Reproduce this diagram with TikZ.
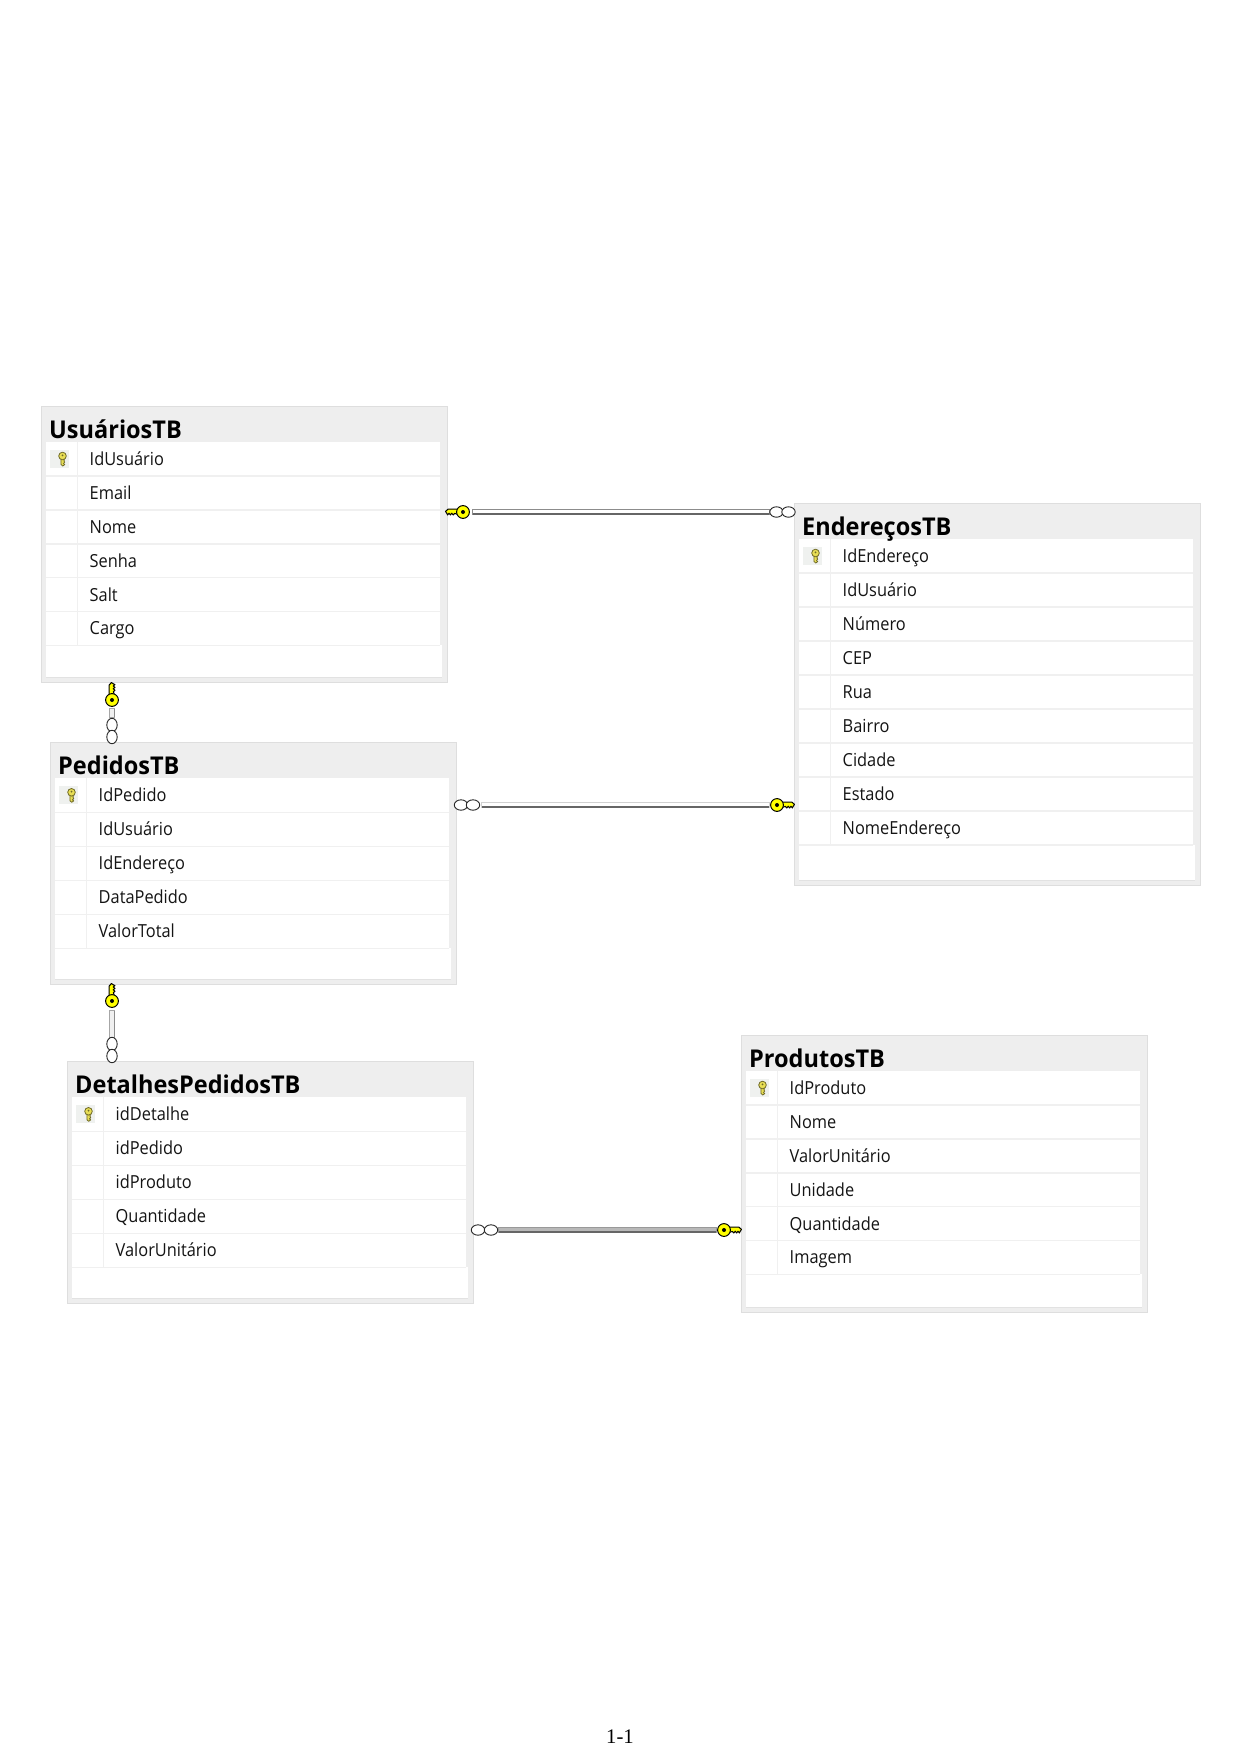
\documentclass[tikz,border=0pt]{standalone}
\usepackage{fontspec}
\setmainfont{Open Sans}
\newfontfamily\rowfont[FakeStretch=0.91]{Open Sans}
\newfontfamily\titlefont[FakeStretch=0.96]{Open Sans Bold}
\newfontfamily\pagefont{Liberation Serif}
\usetikzlibrary{shapes.geometric}
\definecolor{band}{HTML}{EEEEEE}
\definecolor{edge}{HTML}{DEDEDE}
\definecolor{sepc}{HTML}{F0F0F0}
\definecolor{inner}{HTML}{E2E2E2}
\definecolor{iconbg}{HTML}{EFF1EF}
\definecolor{keyy}{HTML}{FFFF00}
\definecolor{ikey}{HTML}{E8DE55}
\definecolor{ikeyo}{HTML}{6F6A28}
\tikzset{
  x=1pt,y=-1pt,
  tablebox/.style={draw=edge,fill=band,line width=0.8pt,rectangle,inner sep=0pt,anchor=north west},
  tabletitle/.style={anchor=base west,inner sep=0pt,font=\titlefont\fontsize{24.5}{26}\selectfont,text=black},
  rowtext/.style={anchor=base west,inner sep=0pt,font=\rowfont\fontsize{18}{20}\selectfont,text=black!92},
  crow/.style={ellipse,draw=black!85,fill=white,line width=0.9pt,inner sep=0pt},
  crowh/.style={crow,minimum width=13.4pt,minimum height=10.4pt},
  crowv/.style={crow,minimum width=10.4pt,minimum height=13.4pt},
  bigkey/.pic={
    \filldraw[fill=keyy,draw=black,line width=1pt,line join=round]
      (4,-2.8) -- (15,-2.8) -- (17.5,-0.6) -- (16.4,1) -- (15.4,3) -- (14,1.2) -- (12.6,3)
      -- (11.2,1.2) -- (9.8,3) -- (8.4,1.4) -- (4,2.8) -- cycle;
    \filldraw[fill=keyy,draw=black,line width=1pt] (0,0) circle[radius=6.4pt];
    \fill[black] (0,0) circle[radius=2pt];
  },
  smallkey/.pic={
    \filldraw[fill=ikey,draw=ikeyo,line width=0.8pt,line join=round]
      (-1.6,-1) -- (-1.6,5.4) -- (0.2,7) -- (2.2,5.6) -- (1,4.4) -- (2.2,3.2) -- (1.6,2.2) -- (1.6,-1) -- cycle;
    \filldraw[fill=ikey,draw=ikeyo,line width=0.8pt] (0,-3) circle[radius=3.8pt];
    \fill[ikeyo] (0,-3.6) circle[radius=1pt];
  },
}
% name, x, y, height, title, row pitch, rows
\newcommand{\dbtable}[7]{%
  \node[tablebox,minimum width=406pt,minimum height=#4pt] (#1) at (#2,#3) {};
  \pgfmathsetmacro{\tl}{#2+5}
  \pgfmathsetmacro{\tr}{#2+399}
  \pgfmathsetmacro{\tw}{#2+401}
  \pgfmathsetmacro{\tc}{#2+36}
  \pgfmathsetmacro{\tt}{#3+36}
  \pgfmathsetmacro{\tb}{#3+#4-5}
  \fill[white] (\tl,\tt) rectangle (\tw,\tb);
  \draw[inner,line width=0.8pt] (\tl,\tb) -- (\tw,\tb);
  \fill[band] (\tr,\tt) rectangle (\tw,\tt+1);
  \pgfmathsetmacro{\ttx}{#2+8}
  \pgfmathsetmacro{\tty}{#3+32}
  \node[tabletitle] (#1-title) at (\ttx,\tty) {#5};
  \foreach \rowlabel [count=\ri] in {#7} {
    \pgfmathsetmacro{\rt}{#3+36+#6*(\ri-1)}
    \pgfmathsetmacro{\rb}{\rt+#6}
    \pgfmathsetmacro{\rtx}{#2+48.5}
    \pgfmathsetmacro{\rty}{\rt+23.4}
    \fill[band] (\tr,\rt) rectangle (\tw,\rb);
    \draw[sepc,line width=1.6pt] (\tl,\rb) -- (\tr,\rb);
    \draw[sepc,line width=1pt] (\tc,\rt) -- (\tc,\rb);
    \node[rowtext] (#1-\ri) at (\rtx,\rty) {\rowlabel};
  }
  \pgfmathsetmacro{\ix}{#2+9}
  \pgfmathsetmacro{\iy}{#3+44}
  \fill[iconbg] (\ix,\iy) rectangle ++(19,18);
  \pgfmathsetmacro{\ikx}{#2+21.5}
  \pgfmathsetmacro{\iky}{#3+53}
  \pic at (\ikx,\iky) {smallkey};
}
% bars between named coordinates
\newcommand{\hconn}[4]{%
  \fill[#4] ([yshift=3pt]#1) rectangle ([yshift=-3pt]#2);
  \draw[#3,line width=1pt] ([yshift=2.6pt]#1) -- ([yshift=2.6pt]#2);
  \draw[black!60,line width=1.6pt] ([yshift=-2.2pt]#1) -- ([yshift=-2.2pt]#2);
  \draw[#3,line width=1pt] ([yshift=3pt]#1) -- ([yshift=-3pt]#1);
  \draw[#3,line width=1pt] ([yshift=3pt]#2) -- ([yshift=-3pt]#2);
}
\newcommand{\vconn}[2]{%
  \fill[black!6] ([xshift=-3pt]#1) rectangle ([xshift=3pt]#2);
  \draw[black!35,line width=1pt] ([xshift=-2.6pt]#1) -- ([xshift=-2.6pt]#2);
  \draw[black!45,line width=1.4pt] ([xshift=2.4pt]#1) -- ([xshift=2.4pt]#2);
  \draw[black!35,line width=0.8pt] ([xshift=-3pt]#1) -- ([xshift=3pt]#1);
  \draw[black!35,line width=0.8pt] ([xshift=-3pt]#2) -- ([xshift=3pt]#2);
}
\begin{document}
\begin{tikzpicture}
\useasboundingbox (0,0) rectangle (1241,1755);
\fill[white] (0,0) rectangle (1241,1755);

\dbtable{usuarios}{41}{406}{276}{UsuáriosTB}{33.9}{IdUsuário,Email,Nome,Senha,Salt,Cargo}
\dbtable{enderecos}{794}{503}{382}{EndereçosTB}{34}{IdEndereço,IdUsuário,Número,CEP,Rua,Bairro,Cidade,Estado,NomeEndereço}
\dbtable{pedidos}{50}{742.3}{242}{PedidosTB}{34}{IdPedido,IdUsuário,IdEndereço,DataPedido,ValorTotal}
\dbtable{detalhes}{67}{1061.3}{242}{DetalhesPedidosTB}{34}{idDetalhe,idPedido,idProduto,Quantidade,ValorUnitário}
\dbtable{produtos}{741}{1035}{277}{ProdutosTB}{33.9}{IdProduto,Nome,ValorUnitário,Unidade,Quantidade,Imagem}

% Usuarios - Enderecos
\coordinate (a1) at (472,512);
\coordinate (a2) at (769,512);
\hconn{a1}{a2}{black!45}{white}
\pic[xscale=-1] at (463,512) {bigkey};
\node[crowh] (a3) at (776.5,512) {};
\node[crowh] (a4) at (788.5,512) {};

% Pedidos - Enderecos
\coordinate (b1) at (481,805);
\coordinate (b2) at (769,805);
\hconn{b1}{b2}{black!18}{white}
\node[crowh] (b3) at (461,805) {};
\node[crowh] (b4) at (473,805) {};
\pic at (777,805) {bigkey};

% Detalhes - Produtos
\coordinate (c1) at (498,1230);
\coordinate (c2) at (716,1230);
\hconn{c1}{c2}{black!40}{black!28}
\node[crowh] (c3) at (478,1230) {};
\node[crowh] (c4) at (491,1230) {};
\pic at (724,1230) {bigkey};

% Usuarios - Pedidos
\coordinate (d1) at (112,708);
\coordinate (d2) at (112,717);
\vconn{d1}{d2}
\pic[rotate=90] at (112,700) {bigkey};
\node[crowv] (d3) at (112,725) {};
\node[crowv] (d4) at (112,737) {};

% Pedidos - Detalhes
\coordinate (e1) at (112,1010);
\coordinate (e2) at (112,1037);
\vconn{e1}{e2}
\pic[rotate=90] at (112,1001) {bigkey};
\node[crowv] (e3) at (112,1044) {};
\node[crowv] (e4) at (112,1056) {};

\node[anchor=base,inner sep=0pt,font=\pagefont\fontsize{20.7}{22}\selectfont] (page) at (620,1743) {1-1};
\end{tikzpicture}
\end{document}
